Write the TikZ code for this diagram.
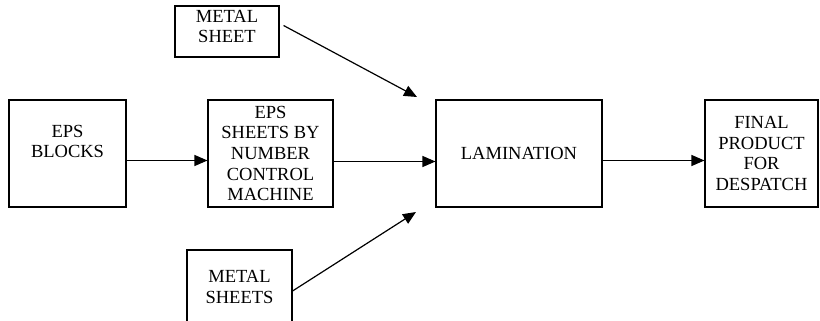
\documentclass[tikz,border=0pt]{standalone}
\usepackage{fontspec}
\setmainfont{Liberation Serif}
\usepackage{tikz}
\usetikzlibrary{shapes,arrows}
\usetikzlibrary{arrows.meta}

\begin{document}
\begin{tikzpicture}[x=1pt,y=1pt]
        \tikzstyle{block} = [rectangle, draw, line width=1.1pt, align=center, inner sep=1pt, font=\fontsize{18.5}{20.7}\selectfont, minimum height=107pt]
        \tikzstyle{line} = [draw, line width=1.2pt, -{Triangle[length=13pt,width=11pt]}]

        \clip (0,0) rectangle (820,-321);

        \node [block, minimum width=117pt, text depth=24pt] at (67.5,-153.5) (epsblocks) {EPS\\BLOCKS};
        \node [block, minimum width=125pt, right of=epsblocks, node distance=203pt] (epssheets) {EPS\\SHEETS BY\\NUMBER\\CONTROL\\MACHINE};
        \node [block, minimum width=166pt, right of=epssheets, node distance=248.5pt] (lamination) {LAMINATION};
        \node [block, minimum width=113pt, right of=lamination, node distance=242.5pt] (finalproduct) {FINAL\\PRODUCT\\FOR\\DESPATCH};
        \node [block, minimum width=104pt, minimum height=51pt, text depth=10pt] at (227,-31.5) (metalsheet) {METAL\\SHEET};
        \node [block, minimum width=105pt, minimum height=74pt] at (239.5,-287) (metalsheets) {METAL\\SHEETS};

        \coordinate (topin) at (417,-97);
        \coordinate (botin) at (416,-212);

        \path [line] ([yshift=-7pt]epsblocks.east) -- ([yshift=-7pt]epssheets.west);
        \path [line] ([yshift=-8pt]epssheets.east) -- ([yshift=-8pt]lamination.west);
        \path [line] ([yshift=-7pt]lamination.east) -- ([yshift=-7pt]finalproduct.west);
        \path [line] ([xshift=4pt,yshift=6pt]metalsheet.east) -- (topin);
        \path [line] ([yshift=-4pt]metalsheets.east) -- (botin);
    \end{tikzpicture}
\end{document}
